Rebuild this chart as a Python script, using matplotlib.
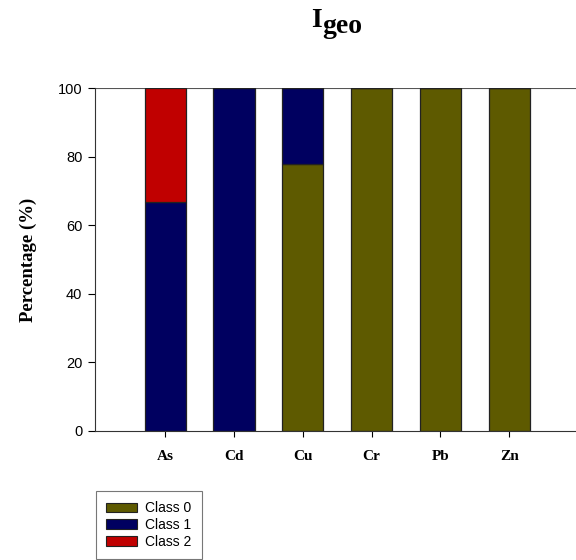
import matplotlib
matplotlib.use("Agg")
import matplotlib.pyplot as plt
from matplotlib.patches import Patch
import numpy as np

elements = ["As", "Cd", "Cu", "Cr", "Pb", "Zn"]
class0 = [0, 0, 77.8, 100, 100, 100]
class1 = [66.7, 100, 22.2, 0, 0, 0]
class2 = [33.3, 0, 0, 0, 0, 0]
yticks = [0, 20, 40, 60, 80, 100]

colors = ["#5E5A00", "#000060", "#C00000"]
labels = ["Class 0", "Class 1", "Class 2"]

fig = plt.figure(figsize=(5.76, 5.60), dpi=100)
ax = fig.add_axes([95/576, 1-431/560, (578-95)/576, (431-88)/560])

x = np.arange(len(elements))
w = 0.6
b0 = np.array(class0)
b1 = np.array(class1)
b2 = np.array(class2)
ax.bar(x, b0, w, color=colors[0], edgecolor="#222222", linewidth=0.9)
ax.bar(x, b1, w, bottom=b0, color=colors[1], edgecolor="#222222", linewidth=0.9)
ax.bar(x, b2, w, bottom=b0 + b1, color=colors[2], edgecolor="#222222", linewidth=0.9)

ax.set_xlim(-1.02, 6.0)
ax.set_ylim(0, 100)
ax.set_yticks(yticks)
ax.set_yticklabels([str(t) for t in yticks], fontfamily="Liberation Sans", fontsize=10.5)
ax.set_xticks(x)
ax.set_xticklabels(elements, fontfamily="Liberation Serif", fontweight="bold", fontsize=11)
ax.tick_params(axis="y", length=5, width=0.8, pad=4)
ax.tick_params(axis="x", length=4, width=0.8, pad=10, direction="out")
ax.axhline(100, color="#555555", linewidth=0.8, zorder=0)
for s in ["top", "right"]:
    ax.spines[s].set_visible(False)
ax.spines["left"].set_color("#333333")
ax.spines["bottom"].set_color("#333333")

ax.set_ylabel("Percentage (%)", fontfamily="Liberation Serif", fontweight="bold", fontsize=13.5, labelpad=15)

fig.text(322/576, 1-27/560, "I", fontfamily="Liberation Serif", fontweight="bold",
         fontsize=20, ha="right", va="baseline")
fig.text(322/576, 1-33/560, "geo", fontfamily="Liberation Serif", fontweight="bold",
         fontsize=20, ha="left", va="baseline")

handles = [Patch(facecolor=c, edgecolor="#222222", linewidth=0.8) for c in colors]
leg = fig.legend(handles, labels, loc="upper left", bbox_to_anchor=(96/576, 1-491/560),
                 borderaxespad=0,
                 frameon=True, fancybox=False, edgecolor="#555555",
                 prop={"family": "Liberation Sans", "size": 10},
                 handlelength=2.2, handleheight=0.7, labelspacing=0.2,
                 borderpad=0.75, handletextpad=0.6)
leg.get_frame().set_linewidth(0.8)

fig.savefig("out.png", dpi=100)
